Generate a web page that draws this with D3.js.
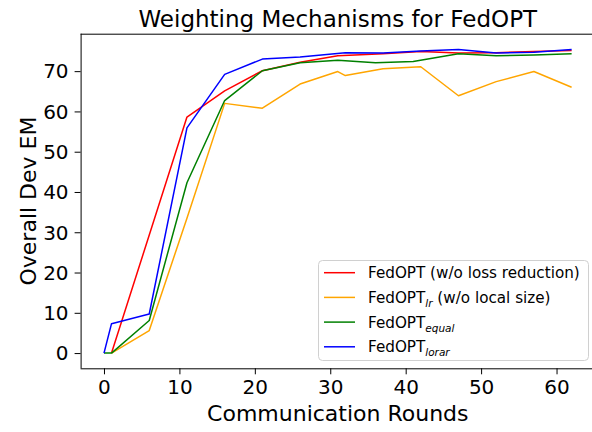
<!DOCTYPE html>
<html>
<head>
<meta charset="utf-8">
<script src="https://cdn.jsdelivr.net/npm/d3@7"></script>
<style>
  body { margin: 0; background: #fff; }
  text { font-family: "DejaVu Sans", sans-serif; }
</style>
</head>
<body>
<script>
// data
const redX = [1, 11, 16, 21, 26, 31, 37, 42, 47, 52, 57, 62];
const redY = [0, 58.6, 65.1, 70.1, 72.2, 73.8, 74.3, 74.9, 74.5, 74.6, 74.9, 75.1];

const orangeX = [1, 6, 11, 16, 21, 26, 31, 32, 37, 42, 47, 52, 57, 62];
const orangeY = [0, 5.6, 33.5, 62.0, 60.8, 66.8, 69.9, 68.9, 70.6, 71.1, 63.9, 67.4, 69.9, 66.0];

const greenX = [0, 1, 6, 11, 16, 21, 26, 31, 36, 41, 47, 52, 57, 62];
const greenY = [0, 0, 8.1, 42.3, 62.7, 70.1, 72.1, 72.7, 72.1, 72.4, 74.3, 73.8, 74.0, 74.3];

const blueX = [0, 1, 6, 11, 16, 21, 26, 32, 37, 42, 47, 52, 57, 62];
const blueY = [0, 7.3, 9.7, 55.9, 69.2, 73.0, 73.5, 74.6, 74.5, 75.0, 75.4, 74.5, 74.7, 75.4];

const xTicks = [0, 10, 20, 30, 40, 50, 60];
const yTicks = [0, 10, 20, 30, 40, 50, 60, 70];

const series = [
    { name: 'FedOPT (w/o loss reduction)', sub: null, rest: '', xs: redX, ys: redY, color: 'red' },
    { name: 'FedOPT', sub: 'lr', rest: ' (w/o local size)', xs: orangeX, ys: orangeY, color: 'orange' },
    { name: 'FedOPT', sub: 'equal', rest: '', xs: greenX, ys: greenY, color: 'green' },
    { name: 'FedOPT', sub: 'lorar', rest: '', xs: blueX, ys: blueY, color: 'blue' }
];

const svgWidth = 592;
const svgHeight = 432;
const margin = { top: 33.7, right: -3, bottom: 63.7, left: 80.6 };
const width = svgWidth - margin.left - margin.right;
const height = svgHeight - margin.top - margin.bottom;

const svg = d3.select('body').append('svg')
    .attr('width', svgWidth)
    .attr('height', svgHeight);

const chart = svg.append('g')
    .attr('transform', `translate(${margin.left},${margin.top})`);

// scales (matplotlib-like 5% margins)
const xScale = d3.scaleLinear().domain([-3.1, 65.1]).range([0, width]);
const yScale = d3.scaleLinear().domain([-3.78, 79.3]).range([height, 0]);

// lines
const line = d3.line()
    .x(d => xScale(d[0]))
    .y(d => yScale(d[1]));

series.forEach(s => {
    const pts = s.xs.map((x, i) => [x, s.ys[i]]);
    chart.append('path')
        .datum(pts)
        .attr('fill', 'none')
        .attr('stroke', s.color)
        .attr('stroke-width', 1.5)
        .attr('stroke-linejoin', 'round')
        .attr('d', line);
});

// axes
const xAxis = d3.axisBottom(xScale).tickValues(xTicks).tickSize(6).tickPadding(6);
chart.append('g')
    .attr('transform', `translate(0,${height})`)
    .call(xAxis)
    .call(g => g.select('.domain').attr('d', `M0,0.5H${width}`))
    .selectAll('text')
    .style('font-size', '20px')
    .attr('fill', '#000');

const yAxis = d3.axisLeft(yScale).tickValues(yTicks).tickSize(6).tickPadding(6);
chart.append('g')
    .call(yAxis)
    .call(g => g.select('.domain').attr('d', `M0.5,${height}V0`))
    .selectAll('text')
    .style('font-size', '20px')
    .attr('dy', '0.34em')
    .attr('fill', '#000');

chart.selectAll('.tick line').attr('stroke', '#000');
chart.selectAll('.domain').attr('stroke', '#000');

// top and right spines
chart.append('line').attr('x1', 0).attr('x2', width).attr('y1', 0.5).attr('y2', 0.5).attr('stroke', '#000');
chart.append('line').attr('x1', width).attr('x2', width).attr('y1', 0).attr('y2', height).attr('stroke', '#000');

// labels
svg.append('text')
    .attr('x', margin.left + width / 2)
    .attr('y', 27)
    .attr('text-anchor', 'middle')
    .style('font-size', '23px')
    .text('Weighting Mechanisms for FedOPT');

svg.append('text')
    .attr('x', margin.left + width / 2)
    .attr('y', 421)
    .attr('text-anchor', 'middle')
    .style('font-size', '22px')
    .text('Communication Rounds');

svg.append('text')
    .attr('transform', `translate(36,${margin.top + height / 2}) rotate(-90)`)
    .attr('text-anchor', 'middle')
    .style('font-size', '22px')
    .text('Overall Dev EM');

// legend
const legend = svg.append('g').attr('transform', 'translate(318,260)');

legend.append('rect')
    .attr('x', 0.5)
    .attr('y', 0.5)
    .attr('width', 270)
    .attr('height', 100)
    .attr('rx', 4)
    .attr('fill', 'white')
    .attr('fill-opacity', 0.8)
    .attr('stroke', '#d0d0d0');

series.forEach((s, i) => {
    const y = 12.7 + i * 24.7;
    legend.append('line')
        .attr('x1', 6).attr('x2', 37)
        .attr('y1', y).attr('y2', y)
        .attr('stroke', s.color)
        .attr('stroke-width', 1.5);
    const t = legend.append('text')
        .attr('x', 50)
        .attr('y', y + 5.5)
        .style('font-size', '15.2px');
    t.append('tspan').text(s.name);
    if (s.sub) {
        t.append('tspan')
            .attr('dy', 4)
            .style('font-size', '10.5px')
            .style('font-style', 'italic')
            .text(s.sub);
        if (s.rest) {
            t.append('tspan').attr('dy', -4).text(s.rest);
        }
    }
});
</script>
</body>
</html>
